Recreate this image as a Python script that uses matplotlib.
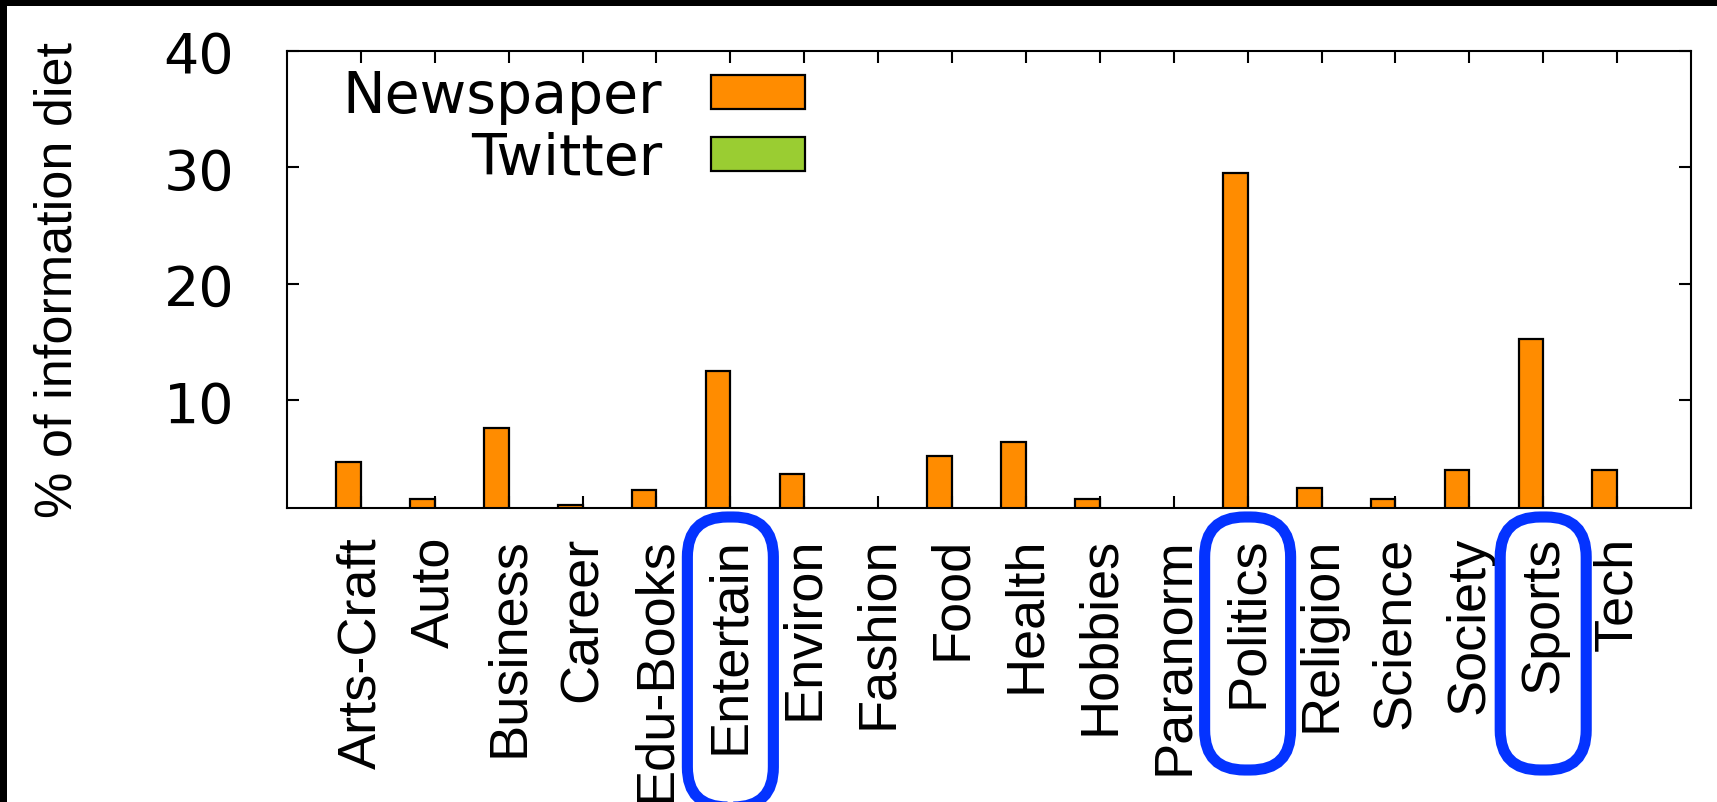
import numpy as np
import matplotlib
matplotlib.use('Agg')
import matplotlib.pyplot as plt
from matplotlib.patches import Rectangle, FancyBboxPatch
from matplotlib.transforms import IdentityTransform

categories = ['Arts-Craft', 'Auto', 'Business', 'Career', 'Edu-Books', 'Entertain',
              'Environ', 'Fashion', 'Food', 'Health', 'Hobbies', 'Paranorm',
              'Politics', 'Religion', 'Science', 'Society', 'Sports', 'Tech']
newspaper = [4.7, 1.5, 7.6, 1.0, 2.3, 12.5, 3.7, 0.0, 5.2, 6.4, 1.5, 0.0,
             29.5, 2.5, 1.5, 4.0, 15.3, 4.0]
twitter = [0.0] * len(categories)
highlighted = ['Entertain', 'Politics', 'Sports']

W, H = 1717, 803
label_font = 'Liberation Sans'

fig = plt.figure(figsize=(W / 100, H / 100), dpi=100, facecolor='black')
# white page with a thin black frame on the top and left
fig.patches.append(Rectangle((7 / W, 0), 1 - 7 / W, 1 - 7 / H,
                             transform=fig.transFigure, facecolor='white',
                             edgecolor='none', zorder=-1))

ax = fig.add_axes([287 / W, 1 - 509 / H, (1691 - 287) / W, (509 - 52) / H])

x = np.arange(len(categories))
w = 1 / 3
ax.bar(x - w / 2, newspaper, width=w, color='#ff8c00', edgecolor='black',
       linewidth=1.6, label='Newspaper')
ax.bar(x + w / 2, twitter, width=w, color='#9acd32', edgecolor='black',
       linewidth=1.6, label='Twitter')

ax.set_xlim(-1, len(categories))
ax.set_ylim(0.75, 40)
ax.set_yticks([10, 20, 30, 40])
ax.set_xticks(x, categories, rotation=90, fontsize=39, family=label_font)
for s in ax.spines.values():
    s.set_linewidth(1.5)
ax.tick_params(direction='in', length=8.6, width=1.5, top=True, right=True)
ax.tick_params(axis='y', labelsize=40, pad=38)
ax.tick_params(axis='x', pad=20)

leg = ax.legend(loc='upper right', bbox_to_anchor=(0.369, 0.96), frameon=False,
                markerfirst=False, fontsize=41, handlelength=1.65,
                handleheight=0.53, handletextpad=0.86, labelspacing=0.12,
                borderpad=0, borderaxespad=0)

fig.text(0.034, 1 - 280 / H, '% of information diet', rotation=90,
         ha='center', va='center', fontsize=37.5, family=label_font)

# blue rounded outlines around highlighted category labels
fig.canvas.draw()
for name in highlighted:
    i = categories.index(name)
    cx = ax.transData.transform((i, 1))[0]
    bottom = H - 808 if name == 'Entertain' else H - 771
    top = H - 518
    fig.patches.append(FancyBboxPatch((cx - 43, bottom), 86, top - bottom,
                                      boxstyle='round,pad=0,rounding_size=40',
                                      transform=IdentityTransform(),
                                      facecolor='none', edgecolor='#0433ff',
                                      linewidth=8, zorder=5))

fig.savefig('out.png', dpi=100, facecolor=fig.get_facecolor())
